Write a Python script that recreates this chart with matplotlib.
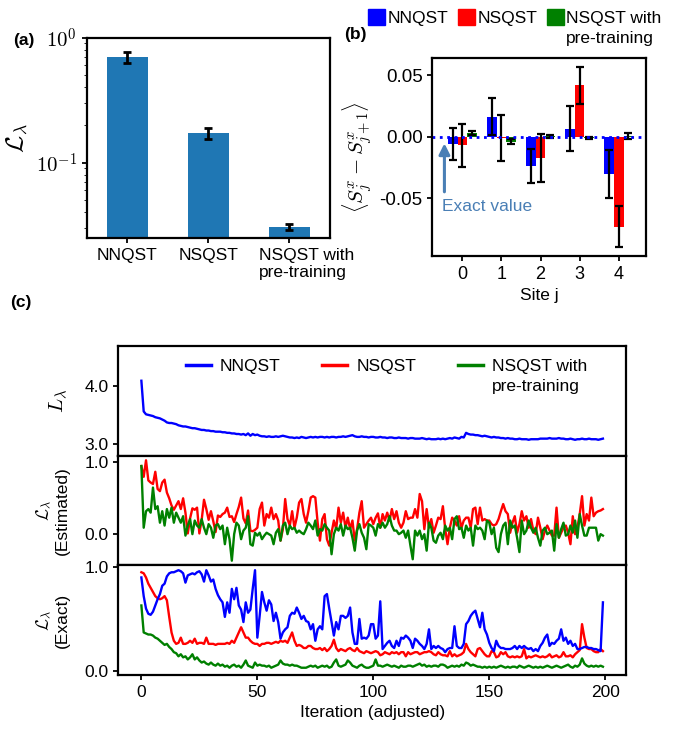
import numpy as np
import matplotlib
matplotlib.use("Agg")
import matplotlib.pyplot as plt
from matplotlib.patches import Patch
from matplotlib.lines import Line2D
from matplotlib.transforms import ScaledTranslation
from matplotlib.ticker import FuncFormatter, NullFormatter, FormatStrFormatter

plt.rcParams['font.family'] = ['Liberation Sans', 'DejaVu Sans']
plt.rcParams['mathtext.fontset'] = 'cm'
plt.rcParams['axes.unicode_minus'] = False
plt.rcParams['axes.linewidth'] = 1.6
plt.rcParams['xtick.major.width'] = 1.3
plt.rcParams['ytick.major.width'] = 1.3
plt.rcParams['font.size'] = 12

methods = ['NNQST', 'NSQST', 'NSQST with\npre-training']
colors = ['#0000ff', '#ff0000', '#008000']

# (a) final loss per method
loss_final = [0.70, 0.173, 0.0305]
loss_err = [0.075, 0.018, 0.0018]

# (b) <S_j^x - S_{j+1}^x> per site
sites = [0, 1, 2, 3, 4]
corr_nnqst = [-0.006, 0.0166, -0.0236, 0.0068, -0.030]
corr_nnqst_err = [0.013, 0.015, 0.014, 0.018, 0.0195]
corr_nsqst = [-0.007, -0.001, -0.017, 0.042, -0.073]
corr_nsqst_err = [0.0175, 0.019, 0.0194, 0.015, 0.0166]
corr_pre = [0.003, -0.004, 0.0005, -0.001, 0.0006]
corr_pre_err = [0.0016, 0.002, 0.001, 0.001, 0.0027]

# (c) training curves
L_nnqst = [
    4.09, 3.56, 3.51, 3.50, 3.49, 3.48, 3.46, 3.45, 3.44, 3.42,
    3.40, 3.37, 3.36, 3.36, 3.35, 3.34, 3.32, 3.31, 3.30, 3.30,
    3.29, 3.28, 3.27, 3.27, 3.26, 3.25, 3.24, 3.24, 3.23, 3.23,
    3.22, 3.22, 3.21, 3.21, 3.21, 3.20, 3.20, 3.19, 3.19, 3.18,
    3.18, 3.17, 3.17, 3.16, 3.17, 3.15, 3.18, 3.14, 3.17, 3.15,
    3.16, 3.14, 3.13, 3.13, 3.12, 3.13, 3.12, 3.12, 3.13, 3.12,
    3.13, 3.14, 3.13, 3.12, 3.11, 3.11, 3.10, 3.11, 3.10, 3.12,
    3.11, 3.10, 3.11, 3.12, 3.11, 3.12, 3.11, 3.12, 3.12, 3.11,
    3.12, 3.11, 3.12, 3.12, 3.11, 3.12, 3.12, 3.13, 3.12, 3.13,
    3.14, 3.15, 3.13, 3.12, 3.12, 3.13, 3.12, 3.12, 3.11, 3.12,
    3.12, 3.11, 3.11, 3.12, 3.11, 3.11, 3.10, 3.11, 3.11, 3.10,
    3.10, 3.11, 3.10, 3.10, 3.10, 3.09, 3.10, 3.10, 3.09, 3.09,
    3.09, 3.10, 3.09, 3.08, 3.09, 3.08, 3.08, 3.08, 3.09, 3.08,
    3.09, 3.08, 3.09, 3.10, 3.09, 3.11, 3.10, 3.09, 3.12, 3.11,
    3.19, 3.17, 3.16, 3.16, 3.15, 3.15, 3.14, 3.13, 3.14, 3.13,
    3.12, 3.11, 3.12, 3.11, 3.11, 3.10, 3.10, 3.09, 3.10, 3.09,
    3.09, 3.08, 3.08, 3.09, 3.08, 3.08, 3.08, 3.07, 3.08, 3.08,
    3.08, 3.08, 3.09, 3.09, 3.09, 3.09, 3.10, 3.09, 3.09, 3.09,
    3.10, 3.09, 3.09, 3.08, 3.08, 3.09, 3.08, 3.07, 3.08, 3.08,
    3.09, 3.08, 3.08, 3.09, 3.08, 3.08, 3.08, 3.07, 3.08, 3.09,
]

est_nsqst = [
    0.95, 0.80, 1.03, 0.75, 0.72, 0.70, 0.87, 0.63, 0.60, 0.72,
    0.76, 0.58, 0.50, 0.40, 0.34, 0.40, 0.46, 0.35, 0.50, 0.30,
    0.01, 0.22, 0.36, 0.34, 0.37, 0.01, 0.20, 0.48, 0.35, 0.20,
    0.32, 0.18, 0.03, 0.26, 0.24, 0.28, 0.30, 0.37, 0.24, 0.25,
    0.17, 0.28, 0.38, 0.51, 0.22, 0.15, 0.33, 0.05, 0.04, 0.06,
    0.09, 0.35, 0.44, 0.12, 0.28, 0.23, 0.37, 0.21, 0.28, 0.19,
    -0.09, 0.07, 0.49, 0.21, 0.12, 0.32, 0.09, 0.23, 0.44, 0.49,
    0.28, 0.16, 0.32, 0.51, 0.53, 0.51, 0.16, -0.09, 0.21, 0.28,
    -0.07, -0.16, 0.02, 0.19, 0.07, 0.37, 0.16, 0.30, 0.09, 0.23,
    0.07, 0.19, -0.09, 0.07, 0.30, 0.46, 0.09, 0.14, 0.19, 0.23,
    0.14, 0.23, 0.29, 0.09, 0.28, 0.19, 0.30, 0.19, 0.35, 0.21,
    0.32, 0.16, 0.09, 0.16, 0.32, 0.21, 0.23, 0.23, 0.35, 0.23,
    0.56, 0.46, 0.07, 0.35, 0.09, 0.21, 0.02, 0.12, 0.23, 0.21,
    0.39, 0.07, -0.14, 0.09, 0.23, 0.19, 0.12, 0.25, 0.09, 0.19,
    0.23, 0.23, 0.09, 0.35, 0.37, 0.14, 0.37, 0.19, 0.21, 0.19,
    0.19, 0.14, 0.12, 0.14, 0.21, 0.32, 0.42, 0.32, 0.28, 0.02,
    0.16, 0.25, 0.02, 0.14, 0.32, 0.19, 0.25, 0.09, 0.21, 0.05,
    0.00, 0.23, 0.09, -0.07, 0.05, 0.12, 0.05, -0.02, -0.02, 0.37,
    -0.05, 0.02, 0.09, 0.12, 0.02, -0.14, 0.25, 0.00, 0.09, 0.28,
    0.53, 0.12, 0.28, 0.19, 0.51, 0.25, 0.30, 0.32, 0.33, 0.35,
]

est_pre = [
    0.95, 0.09, 0.32, 0.35, 0.30, 0.65, 0.35, 0.39, 0.16, 0.32,
    0.12, 0.35, 0.23, 0.37, 0.16, 0.30, 0.23, 0.16, 0.25, -0.02,
    0.12, 0.21, 0.00, 0.19, 0.12, 0.09, 0.21, 0.09, 0.00, 0.14,
    0.09, -0.05, 0.12, 0.14, 0.07, 0.12, -0.14, 0.09, -0.07, -0.37,
    0.00, 0.16, 0.12, -0.07, 0.05, 0.09, 0.25, -0.14, -0.16, 0.02,
    -0.02, 0.02, -0.07, -0.02, 0.02, 0.00, -0.02, -0.14, 0.02, 0.07,
    -0.09, 0.12, 0.16, 0.00, 0.12, 0.07, 0.09, 0.02, 0.05, 0.02,
    0.00, 0.07, 0.16, 0.12, 0.07, 0.19, -0.02, 0.07, 0.05, 0.14,
    0.09, 0.05, -0.28, 0.00, 0.09, 0.05, 0.14, -0.02, 0.12, 0.07,
    0.09, -0.05, -0.23, 0.05, 0.14, 0.02, -0.05, -0.21, 0.14, 0.12,
    0.09, -0.02, 0.14, 0.09, 0.16, 0.09, 0.14, 0.25, 0.12, 0.05,
    0.05, 0.00, 0.02, 0.05, -0.05, 0.05, -0.16, -0.35, 0.05, -0.02,
    0.05, -0.07, 0.00, -0.23, 0.16, 0.09, -0.09, -0.12, -0.02, 0.02,
    -0.07, 0.12, 0.05, 0.09, -0.07, 0.21, 0.25, 0.07, 0.09, -0.05,
    0.12, 0.05, 0.09, -0.16, 0.12, 0.07, 0.09, 0.05, -0.07, 0.19,
    0.16, 0.00, 0.09, -0.19, -0.25, 0.00, 0.12, 0.16, -0.14, 0.19,
    0.09, 0.12, -0.05, -0.25, 0.19, 0.00, 0.05, 0.19, 0.09, 0.02,
    0.09, -0.05, -0.16, 0.05, 0.09, 0.00, 0.02, 0.05, -0.23, 0.14,
    -0.05, 0.07, 0.16, -0.02, 0.00, 0.12, 0.02, 0.19, -0.05, 0.28,
    0.12, -0.02, -0.02, 0.09, 0.09, 0.09, 0.09, -0.09, 0.00, -0.02,
]

exact_nnqst = [
    0.90, 0.72, 0.60, 0.55, 0.54, 0.57, 0.63, 0.69, 0.74, 0.82,
    0.84, 0.91, 0.94, 0.95, 0.95, 0.96, 0.97, 0.96, 0.94, 0.85,
    0.92, 0.93, 0.94, 0.93, 0.95, 0.96, 0.93, 0.86, 0.97, 0.92,
    0.86, 0.88, 0.79, 0.73, 0.69, 0.66, 0.52, 0.66, 0.56, 0.79,
    0.69, 0.80, 0.63, 0.59, 0.47, 0.66, 0.56, 0.59, 0.79, 0.97,
    0.32, 0.53, 0.76, 0.66, 0.58, 0.68, 0.64, 0.48, 0.56, 0.47,
    0.31, 0.37, 0.40, 0.42, 0.53, 0.56, 0.55, 0.61, 0.56, 0.50,
    0.53, 0.48, 0.47, 0.40, 0.45, 0.29, 0.40, 0.43, 0.40, 0.72,
    0.74, 0.60, 0.47, 0.34, 0.47, 0.40, 0.53, 0.53, 0.51, 0.53,
    0.61, 0.37, 0.26, 0.26, 0.50, 0.31, 0.32, 0.31, 0.34, 0.45,
    0.45, 0.31, 0.34, 0.67, 0.21, 0.24, 0.27, 0.29, 0.24, 0.22,
    0.29, 0.24, 0.32, 0.31, 0.34, 0.32, 0.29, 0.22, 0.31, 0.29,
    0.26, 0.24, 0.21, 0.26, 0.40, 0.21, 0.24, 0.22, 0.24, 0.22,
    0.21, 0.18, 0.21, 0.22, 0.22, 0.43, 0.24, 0.22, 0.22, 0.26,
    0.45, 0.48, 0.53, 0.56, 0.58, 0.50, 0.42, 0.56, 0.40, 0.35,
    0.27, 0.22, 0.19, 0.29, 0.24, 0.22, 0.22, 0.21, 0.21, 0.21,
    0.22, 0.24, 0.21, 0.24, 0.22, 0.24, 0.22, 0.21, 0.22, 0.19,
    0.21, 0.19, 0.24, 0.27, 0.32, 0.35, 0.24, 0.27, 0.26, 0.29,
    0.31, 0.40, 0.29, 0.32, 0.26, 0.29, 0.24, 0.26, 0.21, 0.21,
    0.22, 0.23, 0.23, 0.22, 0.22, 0.21, 0.21, 0.20, 0.19, 0.66,
]

exact_nsqst = [
    0.95, 0.94, 0.90, 0.84, 0.80, 0.76, 0.72, 0.70, 0.69, 0.70,
    0.72, 0.68, 0.52, 0.37, 0.29, 0.26, 0.27, 0.32, 0.26, 0.26,
    0.27, 0.29, 0.27, 0.31, 0.26, 0.27, 0.27, 0.26, 0.32, 0.26,
    0.26, 0.26, 0.25, 0.26, 0.26, 0.26, 0.26, 0.27, 0.26, 0.29,
    0.27, 0.32, 0.37, 0.42, 0.37, 0.32, 0.32, 0.29, 0.27, 0.26,
    0.26, 0.24, 0.26, 0.26, 0.27, 0.27, 0.26, 0.27, 0.28, 0.27,
    0.29, 0.28, 0.29, 0.27, 0.32, 0.37, 0.29, 0.24, 0.25, 0.24,
    0.22, 0.22, 0.24, 0.24, 0.22, 0.21, 0.21, 0.22, 0.20, 0.22,
    0.19, 0.21, 0.24, 0.30, 0.22, 0.19, 0.21, 0.20, 0.19, 0.21,
    0.22, 0.20, 0.19, 0.22, 0.19, 0.18, 0.17, 0.19, 0.18, 0.17,
    0.18, 0.19, 0.18, 0.15, 0.16, 0.18, 0.17, 0.16, 0.18, 0.17,
    0.18, 0.16, 0.18, 0.18, 0.14, 0.18, 0.16, 0.17, 0.18, 0.18,
    0.16, 0.17, 0.18, 0.18, 0.19, 0.18, 0.16, 0.15, 0.18, 0.16,
    0.15, 0.15, 0.14, 0.19, 0.14, 0.16, 0.14, 0.15, 0.16, 0.18,
    0.26, 0.21, 0.18, 0.16, 0.14, 0.21, 0.22, 0.19, 0.16, 0.14,
    0.14, 0.19, 0.18, 0.13, 0.14, 0.18, 0.16, 0.18, 0.14, 0.13,
    0.14, 0.13, 0.14, 0.13, 0.14, 0.21, 0.12, 0.14, 0.13, 0.14,
    0.15, 0.14, 0.13, 0.14, 0.13, 0.14, 0.16, 0.13, 0.14, 0.15,
    0.13, 0.14, 0.18, 0.14, 0.14, 0.15, 0.13, 0.16, 0.18, 0.20,
    0.45, 0.32, 0.22, 0.21, 0.21, 0.19, 0.18, 0.18, 0.21, 0.19,
]

exact_pre = [
    0.63, 0.37, 0.36, 0.35, 0.35, 0.34, 0.32, 0.31, 0.29, 0.27,
    0.25, 0.26, 0.23, 0.21, 0.18, 0.17, 0.14, 0.16, 0.13, 0.14,
    0.11, 0.13, 0.16, 0.11, 0.13, 0.10, 0.08, 0.09, 0.07, 0.06,
    0.08, 0.06, 0.05, 0.07, 0.05, 0.06, 0.04, 0.05, 0.03, 0.05,
    0.06, 0.04, 0.05, 0.03, 0.06, 0.10, 0.05, 0.04, 0.03, 0.08,
    0.05, 0.06, 0.05, 0.05, 0.04, 0.05, 0.03, 0.04, 0.05, 0.06,
    0.10, 0.07, 0.06, 0.06, 0.05, 0.06, 0.05, 0.05, 0.04, 0.03,
    0.03, 0.03, 0.04, 0.05, 0.04, 0.05, 0.03, 0.04, 0.05, 0.04,
    0.05, 0.03, 0.04, 0.08, 0.11, 0.05, 0.04, 0.05, 0.06, 0.10,
    0.08, 0.05, 0.04, 0.03, 0.05, 0.06, 0.04, 0.03, 0.03, 0.04,
    0.05, 0.11, 0.05, 0.05, 0.04, 0.05, 0.06, 0.05, 0.04, 0.05,
    0.04, 0.03, 0.05, 0.04, 0.04, 0.05, 0.05, 0.04, 0.05, 0.06,
    0.07, 0.05, 0.06, 0.04, 0.05, 0.04, 0.05, 0.05, 0.04, 0.06,
    0.06, 0.05, 0.03, 0.04, 0.05, 0.04, 0.05, 0.04, 0.06, 0.05,
    0.08, 0.07, 0.05, 0.06, 0.05, 0.04, 0.04, 0.03, 0.04, 0.03,
    0.04, 0.03, 0.04, 0.03, 0.04, 0.05, 0.04, 0.03, 0.04, 0.03,
    0.04, 0.04, 0.03, 0.05, 0.04, 0.03, 0.04, 0.05, 0.04, 0.03,
    0.04, 0.03, 0.04, 0.03, 0.04, 0.05, 0.04, 0.03, 0.04, 0.05,
    0.04, 0.03, 0.04, 0.05, 0.06, 0.04, 0.03, 0.05, 0.04, 0.06,
    0.12, 0.07, 0.05, 0.04, 0.05, 0.04, 0.05, 0.04, 0.05, 0.04,
]

iters = np.arange(len(L_nnqst))

W, H = 681, 729
fig = plt.figure(figsize=(W / 100, H / 100), dpi=100)


def box(l, t, r, b):
    # pixel box -> figure fraction rect
    return [l / W, 1 - b / H, (r - l) / W, (b - t) / H]


# ---- (a) ----
ax_a = fig.add_axes(box(86.7, 37.7, 330, 238.3))
xa = np.arange(len(methods))
ax_a.bar(xa, loss_final, width=0.5, color='#1f77b4')
ax_a.errorbar(xa, loss_final, yerr=loss_err, fmt='none', ecolor='black',
              elinewidth=2, capsize=3, capthick=2)
ax_a.set_yscale('log')
ax_a.set_ylim(0.0248, 1.0)
ax_a.set_xlim(-0.5, 2.5)
ax_a.yaxis.set_major_formatter(FuncFormatter(lambda v, p: r'$10^{%d}$' % round(np.log10(v))))
ax_a.yaxis.set_minor_formatter(NullFormatter())
ax_a.set_xticks(xa)
ax_a.set_xticklabels(methods, fontsize=12.5)
ax_a.tick_params(axis='y', labelsize=15)
ax_a.set_ylabel(r'$\mathcal{L}_\lambda$', fontsize=18)
lab = ax_a.get_xticklabels()[2]
lab.set_multialignment('left')
lab.set_transform(lab.get_transform() + ScaledTranslation(0.17, 0, fig.dpi_scale_trans))

# ---- (b) ----
ax_b = fig.add_axes(box(432.3, 58.3, 645.7, 256))
xs = np.array(sites, dtype=float)
bw = 0.245
for off, vals, errs, c in [(-bw, corr_nnqst, corr_nnqst_err, colors[0]),
                           (0.0, corr_nsqst, corr_nsqst_err, colors[1]),
                           (bw, corr_pre, corr_pre_err, colors[2])]:
    ax_b.bar(xs + off, vals, width=bw, color=c)
    ax_b.errorbar(xs + off, vals, yerr=errs, fmt='none', ecolor='black',
                  elinewidth=1.6, capsize=3, capthick=1.6)
ax_b.axhline(0, color='#0000ff', ls=':', lw=2)
ax_b.set_xlim(-0.77, 4.69)
ax_b.set_ylim(-0.097, 0.064)
ax_b.set_yticks([-0.05, 0.0, 0.05])
ax_b.yaxis.set_major_formatter(FormatStrFormatter('%.2f'))
ax_b.set_xticks(sites)
ax_b.tick_params(axis='y', labelsize=13.5)
ax_b.tick_params(axis='x', labelsize=13)
ax_b.set_xlabel('Site j', fontsize=12.5)
ax_b.set_ylabel(r'$\langle S_j^x - S_{j+1}^x\rangle$', fontsize=15)
ax_b.annotate('', xy=(-0.46, -0.003), xytext=(-0.46, -0.047),
              arrowprops=dict(arrowstyle='-|>', color='#4a7fb5', lw=2.2,
                              mutation_scale=16))
ax_b.text(-0.52, -0.057, 'Exact value', color='#4a7fb5', fontsize=12.5,
          ha='left', va='center')

bar_handles = [Patch(color=c) for c in colors]
leg_b = fig.legend(bar_handles, ['NNQST', 'NSQST', 'NSQST with'], ncol=3,
                   loc='upper left', bbox_to_anchor=(368 / W, 1 - 9 / H),
                   frameon=False, fontsize=12.5, handlelength=1.0,
                   handleheight=1.0, handletextpad=0.12, columnspacing=0.55,
                   borderpad=0, borderaxespad=0)

# ---- (c) ----
ax_top = fig.add_axes(box(118.3, 346, 626, 456))
ax_mid = fig.add_axes(box(118.3, 456, 626, 565), sharex=ax_top)
ax_bot = fig.add_axes(box(118.3, 565, 626, 675), sharex=ax_top)

lw = 1.7
ax_top.plot(iters, L_nnqst, color=colors[0], lw=lw)
ax_mid.plot(iters, est_nsqst, color=colors[1], lw=lw)
ax_mid.plot(iters, est_pre, color=colors[2], lw=lw)
ax_bot.plot(iters, exact_pre, color=colors[2], lw=lw)
ax_bot.plot(iters, exact_nsqst, color=colors[1], lw=lw)
ax_bot.plot(iters, exact_nnqst, color=colors[0], lw=lw)

ax_top.set_ylim(2.79, 4.69)
ax_top.set_yticks([3.0, 4.0])
ax_mid.set_ylim(-0.43, 1.09)
ax_mid.set_yticks([0.0, 1.0])
ax_bot.set_ylim(-0.04, 1.02)
ax_bot.set_yticks([0.0, 1.0])
for a in (ax_top, ax_mid, ax_bot):
    a.yaxis.set_major_formatter(FormatStrFormatter('%.1f'))
    a.tick_params(labelsize=12.5)
for a in (ax_top, ax_mid):
    a.tick_params(axis='x', bottom=False, labelbottom=False)
ax_bot.set_xticks([0, 50, 100, 150, 200])
ax_bot.set_xlabel('Iteration (adjusted)', fontsize=12.5)

ax_top.set_ylabel(r'$L_\lambda$', fontsize=15)
ax_mid.set_ylabel(r'$\mathcal{L}_\lambda$' + '\n(Estimated)', fontsize=12.5)
ax_bot.set_ylabel(r'$\mathcal{L}_\lambda$' + '\n(Exact)', fontsize=12.5)
for a in (ax_top, ax_mid, ax_bot):
    a.yaxis.set_label_coords(-0.095, 0.5)

line_handles = [Line2D([], [], color=c, lw=2.5) for c in colors]
leg_c = ax_top.legend(line_handles, ['NNQST', 'NSQST', 'NSQST with'], ncol=3,
                      loc='upper left', bbox_to_anchor=(186 / W, 1 - 359 / H),
                      bbox_transform=fig.transFigure, frameon=False,
                      fontsize=12.5, handlelength=1.45, handletextpad=0.5,
                      columnspacing=2.4, borderpad=0, borderaxespad=0)

# second line of the multi-line legend entries, hung under the first line
fig.canvas.draw()
inv = fig.transFigure.inverted()
for leg in (leg_b, leg_c):
    t = leg.get_texts()[2]
    bb = t.get_window_extent().transformed(inv)
    fig.text(bb.x0, bb.y0 - 5 / H, 'pre-training', fontsize=12.5,
             ha='left', va='top')

fig.text(13 / W, 1 - 40 / H, '(a)', fontsize=12.5, fontweight='bold', va='center')
fig.text(344 / W, 1 - 35 / H, '(b)', fontsize=12.5, fontweight='bold', va='center')
fig.text(10 / W, 1 - 303 / H, '(c)', fontsize=12.5, fontweight='bold', va='center')

fig.savefig('out.png', dpi=100)
